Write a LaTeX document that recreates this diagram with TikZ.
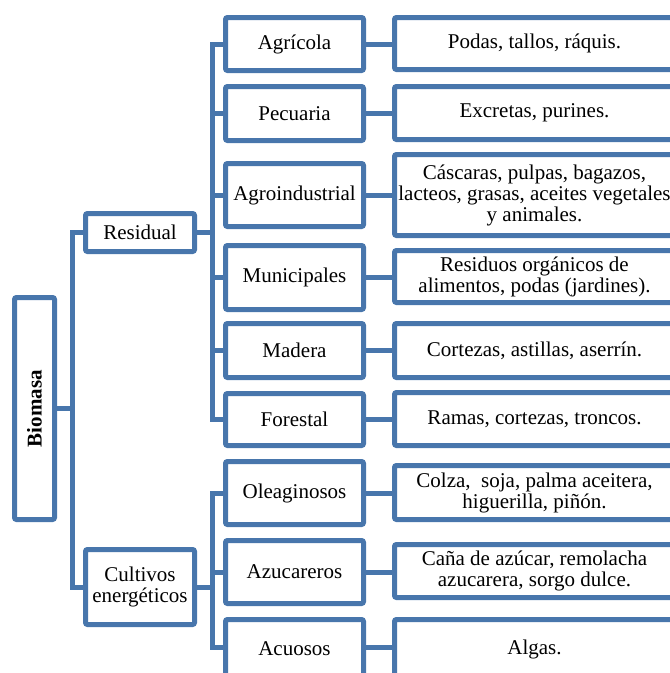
\documentclass[tikz,border=0pt]{standalone}
\usepackage{fontspec}
\setmainfont{Liberation Serif}
\usetikzlibrary{positioning}
\definecolor{smart blue}{RGB}{72,118,172}
\colorlet{box edge}{smart blue}
\tikzset{box/.style={draw=box edge, line width=5pt, rounded corners=2pt, fill=white,
        inner sep=0pt, align=center, font=\fontsize{21}{21}\selectfont},
    link/.style={draw=box edge, line width=5pt},
    kind/.style={box, minimum width=138pt},
    items/.style={box, minimum width=280pt}}

\begin{document}
\begin{tikzpicture}[x=1pt, y=-1pt]
    \clip (0,0) rectangle (670,673);
    % left side
    \node[box, minimum width=40pt, minimum height=222pt,
          font=\bfseries\fontsize{21}{21}\selectfont] (bio) at (34.5,408.5) {\rotatebox{90}{Biomasa}};
    \node[box, minimum width=109pt, minimum height=38pt] (resid) at (140,232.5) {Residual};
    \node[box, minimum width=109pt, minimum height=75pt] (cult) at (140,587) {Cultivos\\energéticos};
    % kinds
    \node[kind, minimum height=53pt] (agr)  at (294.5,44)    {Agrícola};
    \node[kind, minimum height=54pt] (pec)  at (294.5,113.5) {Pecuaria};
    \node[kind, minimum height=63pt] (agi)  at (294.5,195)   {Agroindustrial};
    \node[kind, minimum height=64pt] (mun)  at (294.5,277.5) {Municipales};
    \node[kind, minimum height=54pt] (mad)  at (294.5,350.5) {Madera};
    \node[kind, minimum height=52pt] (fore) at (294.5,419.5) {Forestal};
    \node[kind, minimum height=63pt] (ole)  at (294.5,493)   {Oleaginosos};
    \node[kind, minimum height=63pt] (azu)  at (294.5,572)   {Azucareros};
    \node[kind, minimum height=59pt] (acu)  at (294.5,649)   {Acuosos};
    % what each kind gives
    \node[items, minimum height=52pt] (pod)  at (534.5,43.5)  {Podas, tallos, ráquis.};
    \node[items, minimum height=53pt] (exc)  at (534.5,113)   {Excretas, purines.};
    \node[items, minimum height=81pt] (cas)  at (534.5,195)
        {Cáscaras, pulpas, bagazos,\\lacteos, grasas, aceites vegetales\\y animales.};
    \node[items, minimum height=52pt] (res)  at (534.5,276.5) {Residuos orgánicos de\\alimentos, podas (jardines).};
    \node[items, minimum height=54pt] (cor)  at (534.5,350.5) {Cortezas, astillas, aserrín.};
    \node[items, minimum height=53pt] (ram)  at (534.5,419)   {Ramas, cortezas, troncos.};
    \node[items, minimum height=54pt] (col)  at (534.5,492.5) {Colza,~ soja, palma aceitera,\\higuerilla, piñón.};
    \node[items, minimum height=53pt] (cana) at (534.5,571)   {Caña de azúcar, remolacha\\azucarera, sorgo dulce.};
    \node[items, minimum height=59pt] (alg)  at (534.5,649)   {Algas.};
    % tree lines
    \draw[link] (bio.east) -- ++(15,0) coordinate (jb);
    \draw[link] (resid.west) -| (jb) |- (cult.west);
    \draw[link] (resid.east) -- ++(15,0) coordinate (jr);
    \draw[link] (agr.west) -| (jr) |- (fore.west);
    \foreach \n in {pec,agi,mun,mad}
        \draw[link] (\n.west) -- (\n.west -| jr);
    \draw[link] (cult.east) -- ++(15,0) coordinate (jc);
    \draw[link] (ole.west) -| (jc) |- ([yshift=2pt]acu.west);
    \draw[link] (azu.west) -- (azu.west -| jc);
    \foreach \a/\b in {agr/pod,pec/exc,agi/cas,mun/res,mad/cor,fore/ram,ole/col,azu/cana}
        \draw[link] (\a.east) -- (\a.east -| \b.west);
    \draw[link] ([yshift=2pt]acu.east) -- ([yshift=2pt]acu.east -| alg.west);
\end{tikzpicture}
\end{document}
